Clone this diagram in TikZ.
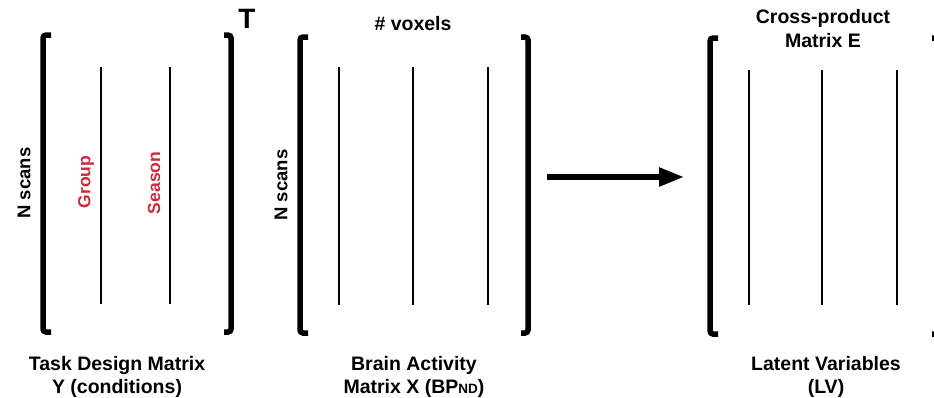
\documentclass[tikz,border=0pt]{standalone}
\usepackage{fontspec}
\setmainfont{Liberation Sans}
\usetikzlibrary{arrows.meta}
\definecolor{factorred}{RGB}{200,45,62}
\begin{document}
\begin{tikzpicture}[x=1pt,y=-1pt,
  bracket/.style={line width=5.5pt, rounded corners=3pt},
  column/.style={line width=1.8pt},
  lbl/.style={font=\fontsize{19.5}{23}\selectfont\bfseries, inner sep=0pt, anchor=base},
  axis/.style={font=\fontsize{18.5}{22}\selectfont\bfseries, rotate=90, inner sep=0pt},
  factor/.style={font=\fontsize{17.5}{20}\selectfont\bfseries, text=factorred, rotate=90, inner sep=0pt}]
\useasboundingbox (0,0) rectangle (934,397);
\clip (0,0) rectangle (934,397);

% ---- Task design matrix Y (transposed) ----
\draw[bracket] (51,35) -- (43,35) -- (43,332) -- (51,332);
\draw[bracket] (224,35) -- (231,35) -- (231,332) -- (224,332);
\draw[column] (101,67) -- (101,304);
\draw[column] (170,67) -- (170,304);
\node[factor] (grp) at (86,182) {Group};
\node[factor] (ssn) at (154,183) {Season};
\node[axis] (nscansY) at (24,183) {N scans};
\node[font=\fontsize{28}{30}\selectfont\bfseries, inner sep=0pt, anchor=base] (transp) at (247,28) {T};
\node[lbl] (yl1) at (117,370) {Task Design Matrix};
\node[lbl] (yl2) at (117,393) {Y (conditions)};

% ---- Brain activity matrix X ----
\draw[bracket] (308,37) -- (300,37) -- (300,333) -- (308,333);
\draw[bracket] (521,37) -- (528,37) -- (528,333) -- (521,333);
\draw[column] (339,67) -- (339,305);
\draw[column] (413,67) -- (413,305);
\draw[column] (488,67) -- (488,305);
\node[lbl] (vox) at (413,30) {\# voxels};
\node[axis] (nscansX) at (281,185) {N scans};
\node[lbl] (xl1) at (414,370) {Brain Activity};
\node[lbl] (xl2) at (414,393) {Matrix X (BP{\fontsize{13.5}{14}\selectfont ND})};

% ---- Cross-product matrix E ----
\draw[bracket] (718,38) -- (710,38) -- (710,334) -- (718,334);
\draw[bracket] (932,38) -- (939,38) -- (939,334) -- (932,334);
\draw[column] (749,70) -- (749,305);
\draw[column] (822,70) -- (822,305);
\draw[column] (897,70) -- (897,305);
\node[lbl] (el1) at (823,23) {Cross-product};
\node[lbl] (el2) at (823,47) {Matrix E};
\node[lbl] (ll1) at (826,370) {Latent Variables};
\node[lbl] (ll2) at (826,393) {(LV)};

% ---- Arrow X -> E ----
\coordinate (arrS) at (547,177);
\coordinate (arrE) at (684,177);
\draw[line width=5.5pt, -{Triangle[length=25pt,width=18pt]}] (arrS) -- (arrE);
\end{tikzpicture}
\end{document}
